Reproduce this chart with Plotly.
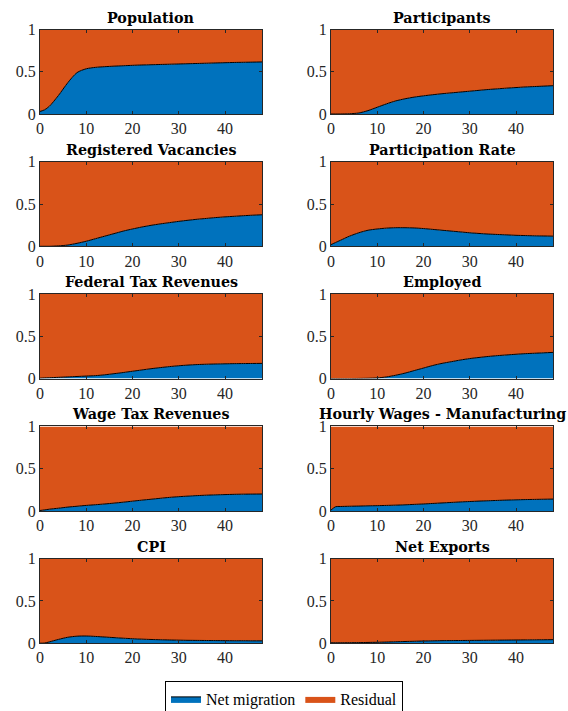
import plotly.graph_objects as go

W, H = 568, 711

periods = [0, 1, 2] + list(range(4, 49, 2))

titles = ["Population", "Participants", "Registered Vacancies", "Participation Rate",
          "Federal Tax Revenues", "Employed", "Wage Tax Revenues",
          "Hourly Wages - Manufacturing", "CPI", "Net Exports"]

population = [0.03, 0.05, 0.09, 0.22, 0.37, 0.49, 0.535, 0.552, 0.56, 0.566, 0.571, 0.576, 0.58,
              0.583, 0.586, 0.589, 0.592, 0.595, 0.598, 0.601, 0.604, 0.607, 0.61, 0.612, 0.614, 0.616]
participants = [0, 0, 0, 0.003, 0.012, 0.04, 0.08, 0.12, 0.155, 0.18, 0.2, 0.215, 0.228, 0.24,
                0.25, 0.26, 0.27, 0.28, 0.29, 0.298, 0.306, 0.313, 0.32, 0.325, 0.33, 0.335]
vacancies = [0, 0, 0, 0.005, 0.015, 0.035, 0.06, 0.09, 0.12, 0.15, 0.18, 0.205, 0.228, 0.248,
             0.265, 0.28, 0.295, 0.308, 0.32, 0.33, 0.34, 0.348, 0.355, 0.362, 0.368, 0.373]
participation_rate = [0.02, 0.045, 0.07, 0.12, 0.16, 0.19, 0.205, 0.215, 0.22, 0.22, 0.217, 0.21,
                      0.2, 0.19, 0.18, 0.17, 0.16, 0.152, 0.145, 0.14, 0.135, 0.13, 0.127, 0.124,
                      0.122, 0.12]
federal_tax = [0.005, 0.008, 0.01, 0.015, 0.02, 0.025, 0.03, 0.035, 0.045, 0.058, 0.072, 0.087,
               0.102, 0.117, 0.13, 0.142, 0.152, 0.16, 0.166, 0.17, 0.173, 0.175, 0.177, 0.178,
               0.179, 0.18]
employed = [0, 0, 0, 0, 0.002, 0.004, 0.008, 0.02, 0.04, 0.065, 0.095, 0.125, 0.155, 0.18, 0.2,
            0.22, 0.237, 0.25, 0.262, 0.272, 0.28, 0.288, 0.295, 0.3, 0.305, 0.31]
wage_tax = [0.005, 0.012, 0.02, 0.032, 0.045, 0.055, 0.065, 0.073, 0.082, 0.092, 0.103, 0.115,
            0.127, 0.138, 0.149, 0.16, 0.168, 0.175, 0.181, 0.186, 0.19, 0.193, 0.196, 0.198,
            0.199, 0.2]
hourly_wages = [0.01, 0.05, 0.052, 0.055, 0.057, 0.06, 0.062, 0.065, 0.068, 0.072, 0.077, 0.082,
                0.088, 0.094, 0.1, 0.106, 0.111, 0.116, 0.12, 0.124, 0.128, 0.131, 0.134, 0.136,
                0.138, 0.14]
cpi = [0, 0.002, 0.015, 0.045, 0.07, 0.083, 0.085, 0.08, 0.073, 0.066, 0.059, 0.053, 0.048,
       0.044, 0.041, 0.038, 0.036, 0.034, 0.033, 0.032, 0.031, 0.03, 0.029, 0.029, 0.028, 0.028]
net_exports = [0.005, 0.005, 0.005, 0.006, 0.007, 0.009, 0.011, 0.014, 0.017, 0.02, 0.023,
               0.026, 0.028, 0.03, 0.031, 0.032, 0.033, 0.034, 0.035, 0.036, 0.037, 0.038,
               0.039, 0.04, 0.041, 0.042]

series = [population, participants, vacancies, participation_rate, federal_tax, employed,
          wage_tax, hourly_wages, cpi, net_exports]

x_ticks = [0, 10, 20, 30, 40]
y_ticks = [0, 0.5, 1]
y_tick_labels = ["0", "0.5", "1"]

BLUE = "#0072BD"
ORANGE = "#D95319"
FONT = "Liberation Serif"
TFONT = "DejaVu Serif"
AX = "#262626"

col_px = [(40, 262), (331, 553)]
row_top = [29.5, 161.8, 294.1, 426.4, 558.7]
row_h = 84.5

fig = go.Figure()
layout = {}
annotations = []
for i, (title, vals) in enumerate(zip(titles, series)):
    r, c = divmod(i, 2)
    n = i + 1
    xa = "x" if n == 1 else f"x{n}"
    ya = "y" if n == 1 else f"y{n}"
    resid = [1 - v for v in vals]
    fig.add_trace(go.Scatter(x=periods, y=vals, xaxis=xa, yaxis=ya, stackgroup=f"s{n}",
                             mode="lines", line=dict(color="black", width=1, shape="spline", smoothing=0.8),
                             fillcolor=BLUE, name="Net migration", showlegend=(n == 1),
                             hoverinfo="skip"))
    fig.add_trace(go.Scatter(x=periods, y=resid, xaxis=xa, yaxis=ya, stackgroup=f"s{n}",
                             mode="lines", line=dict(color=ORANGE, width=0, shape="spline", smoothing=0.8),
                             fillcolor=ORANGE, name="Residual", showlegend=(n == 1),
                             hoverinfo="skip"))
    x0, x1 = col_px[c]
    top = row_top[r]
    bot = top + row_h
    xd = [x0 / W, x1 / W]
    yd = [1 - bot / H, 1 - top / H]
    key = "" if n == 1 else str(n)
    layout["xaxis" + key] = dict(domain=xd, anchor=ya, range=[0, 48], tickvals=x_ticks,
                                 ticks="inside", ticklen=3, tickcolor=AX, showline=True,
                                 linecolor=AX, linewidth=1, mirror="ticks", showgrid=False,
                                 zeroline=False, tickfont=dict(family=FONT, size=16, color=AX),
                                 layer="above traces", fixedrange=True, automargin=False)
    layout["yaxis" + key] = dict(domain=yd, anchor=xa, range=[0, 1], tickvals=y_ticks,
                                 ticktext=y_tick_labels, ticks="inside", ticklen=3, tickcolor=AX,
                                 showline=True, linecolor=AX, linewidth=1, mirror="ticks",
                                 showgrid=False, zeroline=False,
                                 tickfont=dict(family=FONT, size=16, color=AX),
                                 layer="above traces", fixedrange=True, automargin=False)
    annotations.append(dict(text=f"<b>{title}</b>", x=(xd[0] + xd[1]) / 2, y=yd[1],
                            xref="paper", yref="paper", xanchor="center", yanchor="bottom",
                            yshift=2, showarrow=False,
                            font=dict(family=TFONT, size=14.3, color="black")))

fig.update_layout(template="none")
fig.update_layout(**layout)
fig.update_layout(
    width=W, height=H, margin=dict(l=0, r=0, t=0, b=0, autoexpand=False),
    paper_bgcolor="white", plot_bgcolor="white",
    annotations=annotations,
    showlegend=True,
    legend=dict(orientation="h", x=0.5, xanchor="center", y=1 - 699 / H, yanchor="middle",
                bordercolor="black", borderwidth=1, bgcolor="white", traceorder="normal",
                font=dict(family=FONT, size=16, color="black"),
                itemwidth=30, tracegroupgap=0),
)

fig.write_html("out.html", config={"displayModeBar": False},
               post_script="document.body.style.margin='0';document.body.style.overflow='hidden';")
